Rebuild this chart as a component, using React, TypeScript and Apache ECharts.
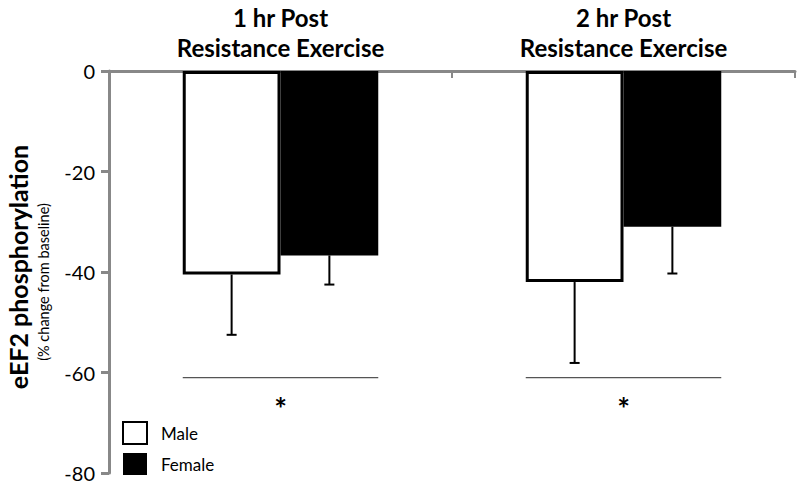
import React, { useEffect, useRef } from "react";
import * as echarts from "echarts";

const categories = ["1 hr Post\nResistance Exercise", "2 hr Post\nResistance Exercise"];
const seriesNames = ["Male", "Female"];
const maleValues = [-40.5, -42];
const femaleValues = [-36.7, -31];
const maleErrors = [12, 16.1];
const femaleErrors = [5.8, 9.3];
const sigLineValues = [-61, -61];
const sigStarValues = [-67, -67];
const yTicks = { min: -80, max: 0, interval: 20 };

const GAP = 0.43;
const FONT = "Lato, 'Open Sans', sans-serif";

export default function App() {
  const ref = useRef<HTMLDivElement>(null);
  useEffect(() => {
    document.body.style.margin = "0";
    if (!ref.current) return;
    const chart = echarts.init(ref.current, undefined, { renderer: "svg" });

    const errRender = (offsetSign: number) => (params: any, api: any) => {
      const cat = api.value(0);
      const val = api.value(1);
      const err = api.value(2);
      const band = api.size([1, 0])[0];
      const bw = (band * (1 - GAP)) / 2;
      const p = api.coord([cat, val]);
      const e = api.coord([cat, val - err]);
      const x = p[0] + (offsetSign * bw) / 2;
      return {
        type: "group",
        children: [
          { type: "line", shape: { x1: x, y1: p[1], x2: x, y2: e[1] }, style: { stroke: "#000", lineWidth: 2 } },
          { type: "line", shape: { x1: x - 5, y1: e[1], x2: x + 5, y2: e[1] }, style: { stroke: "#000", lineWidth: 2 } },
        ],
      };
    };

    const sigRender = (params: any, api: any) => {
      const cat = api.value(0);
      const lv = api.value(1);
      const sv = api.value(2);
      const band = api.size([1, 0])[0];
      const bw = (band * (1 - GAP)) / 2;
      const p = api.coord([cat, lv]);
      const s = api.coord([cat, sv]);
      return {
        type: "group",
        children: [
          { type: "line", shape: { x1: p[0] - bw, y1: p[1], x2: p[0] + bw, y2: p[1] }, style: { stroke: "#555", lineWidth: 1.2 } },
          {
            type: "text",
            x: s[0],
            y: s[1],
            style: { text: "*", fontSize: 30, fontWeight: "bold", fontFamily: FONT, fill: "#000", align: "center", verticalAlign: "middle" },
          },
        ],
      };
    };

    chart.setOption({
      animation: false,
      grid: { left: 109, right: 5, top: 71, bottom: 9 },
      legend: {
        orient: "vertical",
        left: 122,
        top: 421,
        padding: 0,
        itemWidth: 24,
        itemHeight: 22,
        itemGap: 8,
        data: [
          { name: seriesNames[0], icon: "rect", itemStyle: { color: "#fff", borderColor: "#000", borderWidth: 2 } },
          { name: seriesNames[1], icon: "rect", itemStyle: { color: "#000" } },
        ],
        textStyle: { fontSize: 17, fontFamily: FONT, color: "#000", padding: [0, 0, 0, 9] },
        selectedMode: false,
      },
      xAxis: {
        type: "category",
        position: "top",
        data: categories,
        axisLine: { show: true, lineStyle: { color: "#888", width: 3 } },
        axisTick: { show: true, inside: true, length: 7, lineStyle: { color: "#888", width: 2 } },
        axisLabel: { fontSize: 24, fontWeight: "bold", fontFamily: FONT, color: "#000", lineHeight: 30, margin: 9 },
      },
      yAxis: {
        type: "value",
        min: yTicks.min,
        max: yTicks.max,
        interval: yTicks.interval,
        splitLine: { show: false },
        axisLine: { show: true, lineStyle: { color: "#888", width: 3 } },
        axisTick: { show: true, length: 8, lineStyle: { color: "#888", width: 3 } },
        axisLabel: { fontSize: 20, fontFamily: FONT, color: "#000", margin: 14 },
      },
      series: [
        {
          name: seriesNames[0],
          type: "bar",
          data: maleValues,
          barGap: "0%",
          barCategoryGap: GAP * 100 + "%",
          itemStyle: { color: "#fff", borderColor: "#000", borderWidth: 3 },
        },
        {
          name: seriesNames[1],
          type: "bar",
          data: femaleValues,
          itemStyle: { color: "#000" },
        },
        {
          type: "custom",
          renderItem: errRender(-1),
          data: maleValues.map((v, i) => [i, v, maleErrors[i]]),
          z: 5,
        },
        {
          type: "custom",
          renderItem: errRender(1),
          data: femaleValues.map((v, i) => [i, v, femaleErrors[i]]),
          z: 5,
        },
        {
          type: "custom",
          renderItem: sigRender,
          data: sigLineValues.map((v, i) => [i, v, sigStarValues[i]]),
          z: 5,
        },
      ],
      graphic: [
        {
          type: "text",
          x: 18,
          y: 267,
          rotation: Math.PI / 2,
          style: { text: "eEF2 phosphorylation", fontSize: 25, fontWeight: "bold", fontFamily: FONT, fill: "#000", align: "center", verticalAlign: "middle" },
        },
        {
          type: "text",
          x: 43,
          y: 282,
          rotation: Math.PI / 2,
          style: { text: "(% change from baseline)", fontSize: 14.5, fontFamily: FONT, fill: "#000", align: "center", verticalAlign: "middle" },
        },
      ],
    });
    return () => chart.dispose();
  }, []);
  return <div ref={ref} style={{ width: 800, height: 483 }} />;
}
